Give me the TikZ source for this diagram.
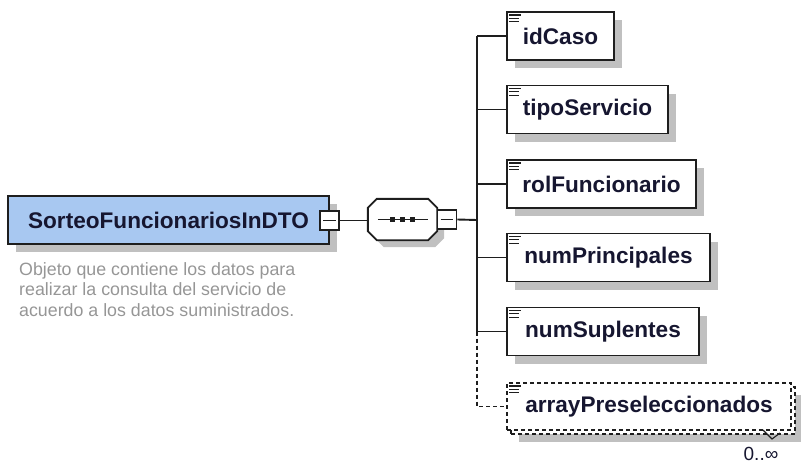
\documentclass[tikz,border=0pt]{standalone}
\usepackage{fontspec}
\setmainfont{Liberation Sans}
\usetikzlibrary{shadows,calc}
\definecolor{txtc}{RGB}{22,22,48}
\definecolor{mainfill}{RGB}{168,200,241}
\definecolor{shadowc}{RGB}{192,192,192}
\definecolor{descc}{RGB}{150,150,150}
\definecolor{linec}{RGB}{30,30,30}
\newcommand{\elemfont}{\fontsize{22.6pt}{26pt}\selectfont\bfseries}
\tikzset{
  elembox/.style={draw=linec, line width=1.9pt, fill=white, minimum height=48pt, inner sep=0pt,
    font=\elemfont, text=txtc,
    drop shadow={shadow xshift=8pt, shadow yshift=-8pt, fill=shadowc, opacity=1}},
  optbox/.style={draw=linec, line width=1.9pt, fill=white, minimum height=47pt, inner sep=0pt,
    font=\elemfont, text=txtc, dash pattern=on 4pt off 3pt},
  mainbox/.style={elembox, fill=mainfill, minimum width=321pt},
  minusbox/.style={draw=linec, line width=1.6pt, fill=white, minimum size=19pt, inner sep=0pt},
  conn/.style={draw=linec, line width=1.9pt},
  optconn/.style={conn, dash pattern=on 4pt off 3pt},
  iconline/.style={draw=linec, line width=1.3pt},
}
\begin{document}
\begin{tikzpicture}[x=1pt,y=-1pt]
\useasboundingbox (0,0) rectangle (801,463);
% main element
\node[mainbox] (main) at (168.5,220) {SorteoFuncionariosInDTO};
\node[minusbox] (m1) at (329.5,220.5) {};
\draw[iconline] ([xshift=4pt]m1.west) -- ([xshift=-4pt]m1.east);
% description
\node[anchor=north west, inner sep=0pt, align=left, text=descc,
      font=\fontsize{17.8pt}{20.8pt}\selectfont] (desc) at (19,262)
  {Objeto que contiene los datos para\\realizar la consulta del servicio de\\acuerdo a los datos suministrados.};
% sequence compositor
\node[minimum width=69pt, minimum height=41pt, inner sep=0pt] (seq) at (402.5,219.5) {};
\fill[shadowc] ($(seq.north west)+(7,7)+(0,9)$) -- ($(seq.north west)+(7,7)+(9,0)$)
  -- ($(seq.north east)+(7,7)+(-9,0)$) -- ($(seq.north east)+(7,7)+(0,9)$)
  -- ($(seq.south east)+(7,7)+(0,-9)$) -- ($(seq.south east)+(7,7)+(-9,0)$)
  -- ($(seq.south west)+(7,7)+(9,0)$) -- ($(seq.south west)+(7,7)+(0,-9)$) -- cycle;
\draw[conn, fill=white] ($(seq.north west)+(0,9)$) -- ($(seq.north west)+(9,0)$)
  -- ($(seq.north east)+(-9,0)$) -- ($(seq.north east)+(0,9)$)
  -- ($(seq.south east)+(0,-9)$) -- ($(seq.south east)+(-9,0)$)
  -- ($(seq.south west)+(9,0)$) -- ($(seq.south west)+(0,-9)$) -- cycle;
\draw[conn] ([xshift=10pt]seq.center -| seq.west) -- ([xshift=-9pt]seq.center -| seq.east);
\foreach \dx in {-10,0,10} \fill[linec] ($(seq.center)+(\dx,0)+(-2.7,-2.7)$) rectangle ++(5.4,5.4);
\node[minusbox] (m2) at (447,219.5) {};
\draw[iconline] ([xshift=4pt]m2.west) -- ([xshift=-4pt]m2.east);
\coordinate (trunk) at (477,220);
\draw[conn] (m1.east) -- (m1.east -| seq.west);
\draw[conn] (m2.east) -- (trunk);
% children
\node[elembox, minimum width=107pt] (idCaso) at (560.5,36) {idCaso};
\node[elembox, minimum width=161pt] (tipo) at (587.5,109.5) {tipoServicio};
\node[elembox, minimum width=189pt] (rol) at (601.5,184) {rolFuncionario};
\node[elembox, minimum width=203pt] (numP) at (608.5,257.5) {numPrincipales};
\node[elembox, minimum width=192pt] (numS) at (603,331.5) {numSuplentes};
\fill[shadowc] (519,395) rectangle (805,442);
\node[optbox, minimum width=284pt] (arrback) at (653,410.5) {};
\node[optbox, minimum width=284pt] (arr) at (649,406.5) {arrayPreseleccionados};
\foreach \n in {idCaso,tipo,rol,numP,numS,arr} {
  \draw[iconline] ([xshift=3pt,yshift=-3.8pt]\n.north west) -- ++(12,0);
  \draw[iconline] ([xshift=3pt,yshift=-7.2pt]\n.north west) -- ++(10,0);
  \draw[iconline] ([xshift=3pt,yshift=-10.6pt]\n.north west) -- ++(10,0);
}
% connectors
\draw[conn] (trunk |- idCaso.west) -- (trunk |- numS.west);
\foreach \n in {idCaso,tipo,rol,numP,numS} \draw[conn] (trunk |- \n.west) -- (\n.west);
\draw[optconn] (trunk |- numS.west) -- (trunk |- arr.west) -- (arr.west);
% multiplicity
\coordinate (cv1) at (763,430);
\coordinate (cv2) at (772,439);
\coordinate (cv3) at (780,433);
\draw[draw=linec, line width=1.1pt] (cv1) -- (cv2) -- (cv3);
\node[text=txtc, inner sep=0pt, font=\fontsize{19pt}{22pt}\selectfont] (mult) at (761,453.5) {0..∞};
\end{tikzpicture}
\end{document}
